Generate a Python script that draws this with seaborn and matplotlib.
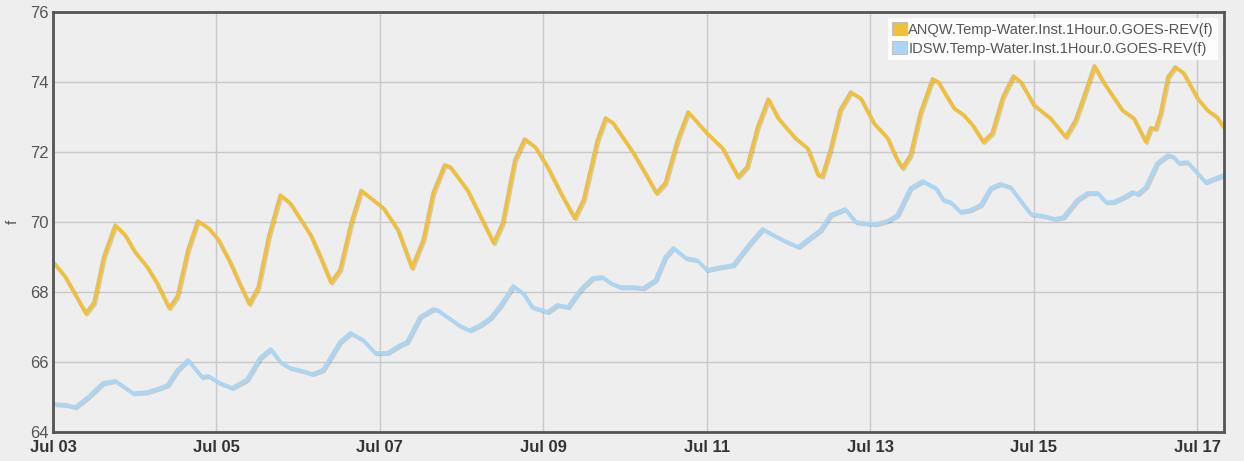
import numpy as np
import pandas as pd
import matplotlib
matplotlib.use("Agg")
import matplotlib.pyplot as plt
import matplotlib.dates as mdates
import matplotlib.patheffects as pe
from matplotlib.patches import Patch
import seaborn as sns

# Water temperature readings (days after Jul 03 00:00, deg F)
anqw_days = [0.00, 0.15, 0.40, 0.50, 0.62, 0.76, 0.88, 1.00, 1.15, 1.27, 1.42, 1.52, 1.65, 1.77,
             1.90, 2.02, 2.17, 2.29, 2.40, 2.51, 2.64, 2.78, 2.90, 3.15, 3.27, 3.40, 3.51, 3.65,
             3.77, 4.04, 4.22, 4.39, 4.53, 4.65, 4.79, 4.86, 5.07, 5.25, 5.39, 5.50, 5.65, 5.77,
             5.90, 6.05, 6.21, 6.38, 6.49, 6.66, 6.76, 6.85, 7.10, 7.27, 7.38, 7.49, 7.64, 7.77,
             8.00, 8.19, 8.38, 8.49, 8.62, 8.75, 8.87, 9.08, 9.23, 9.36, 9.41, 9.51, 9.63, 9.76,
             9.88, 10.04, 10.21, 10.31, 10.39, 10.49, 10.61, 10.76, 10.83, 11.02, 11.14, 11.25,
             11.38, 11.49, 11.62, 11.75, 11.84, 12.00, 12.20, 12.39, 12.51, 12.61, 12.74, 12.85,
             13.08, 13.22, 13.37, 13.43, 13.49, 13.55, 13.64, 13.73, 13.83, 14.00, 14.12, 14.24,
             14.32]
anqw_temp = [68.86, 68.43, 67.39, 67.69, 69.00, 69.91, 69.63, 69.15, 68.72, 68.26, 67.54, 67.87,
             69.20, 70.03, 69.83, 69.50, 68.83, 68.20, 67.66, 68.14, 69.60, 70.77, 70.54, 69.63,
             69.00, 68.27, 68.63, 70.00, 70.90, 70.40, 69.77, 68.69, 69.49, 70.83, 71.63, 71.57,
             70.91, 70.06, 69.40, 69.97, 71.77, 72.37, 72.14, 71.57, 70.83, 70.11, 70.63, 72.34,
             72.97, 72.83, 71.97, 71.29, 70.83, 71.11, 72.34, 73.14, 72.54, 72.11, 71.29, 71.57,
             72.71, 73.51, 72.97, 72.40, 72.11, 71.34, 71.30, 72.06, 73.20, 73.71, 73.54, 72.83,
             72.40, 71.86, 71.54, 71.91, 73.11, 74.09, 74.00, 73.26, 73.06, 72.77, 72.29, 72.54,
             73.57, 74.17, 74.00, 73.34, 72.97, 72.43, 72.91, 73.57, 74.46, 74.00, 73.20, 72.97,
             72.29, 72.69, 72.66, 73.11, 74.14, 74.43, 74.26, 73.54, 73.20, 73.00, 72.71]

idsw_days = [0.02, 0.17, 0.27, 0.43, 0.61, 0.76, 0.98, 1.15, 1.31, 1.40, 1.52, 1.65, 1.82, 1.90,
             2.04, 2.19, 2.37, 2.53, 2.66, 2.78, 2.90, 3.06, 3.17, 3.30, 3.51, 3.64, 3.79, 3.94,
             4.09, 4.25, 4.33, 4.49, 4.65, 4.70, 4.86, 4.98, 5.10, 5.23, 5.35, 5.47, 5.63, 5.75,
             5.86, 6.05, 6.17, 6.30, 6.45, 6.60, 6.72, 6.82, 6.94, 7.10, 7.22, 7.37, 7.49, 7.59,
             7.74, 7.88, 8.00, 8.16, 8.32, 8.53, 8.68, 8.86, 8.98, 9.12, 9.24, 9.39, 9.51, 9.69,
             9.82, 9.90, 10.06, 10.21, 10.33, 10.49, 10.64, 10.80, 10.89, 10.98, 11.10, 11.22,
             11.35, 11.47, 11.59, 11.71, 11.96, 12.12, 12.26, 12.36, 12.53, 12.66, 12.78, 12.88,
             12.97, 13.10, 13.21, 13.27, 13.37, 13.51, 13.64, 13.71, 13.77, 13.88, 14.10, 14.32]
idsw_temp = [64.80, 64.77, 64.71, 65.00, 65.40, 65.46, 65.11, 65.14, 65.26, 65.34, 65.77, 66.06,
             65.57, 65.60, 65.40, 65.26, 65.49, 66.11, 66.37, 66.00, 65.83, 65.74, 65.66, 65.77,
             66.57, 66.83, 66.63, 66.26, 66.26, 66.49, 66.57, 67.29, 67.51, 67.49, 67.23, 67.03,
             66.91, 67.06, 67.26, 67.60, 68.17, 67.97, 67.57, 67.43, 67.63, 67.57, 68.06, 68.40,
             68.43, 68.26, 68.14, 68.14, 68.11, 68.34, 69.00, 69.26, 68.97, 68.91, 68.63, 68.71,
             68.77, 69.40, 69.80, 69.57, 69.43, 69.29, 69.51, 69.77, 70.20, 70.37, 70.00, 69.97,
             69.94, 70.03, 70.20, 70.97, 71.17, 70.97, 70.63, 70.57, 70.29, 70.34, 70.49, 70.97,
             71.09, 71.00, 70.23, 70.17, 70.09, 70.14, 70.63, 70.83, 70.83, 70.57, 70.57, 70.71,
             70.86, 70.80, 71.00, 71.69, 71.91, 71.86, 71.69, 71.71, 71.14, 71.34]

series_names = ["ANQW.Temp-Water.Inst.1Hour.0.GOES-REV(f)",
                "IDSW.Temp-Water.Inst.1Hour.0.GOES-REV(f)"]
colors = ["#f0c03c", "#aad6f6"]

start = pd.Timestamp("2024-07-03")
df = pd.concat([
    pd.DataFrame({"time": start + pd.to_timedelta(anqw_days, unit="D"),
                  "temp": anqw_temp, "series": series_names[0]}),
    pd.DataFrame({"time": start + pd.to_timedelta(idsw_days, unit="D"),
                  "temp": idsw_temp, "series": series_names[1]}),
])

sns.set_style("whitegrid", {"axes.facecolor": "#eeeeee", "grid.color": "#c8c8c8",
                            "axes.edgecolor": "#555555"})
plt.rcParams["font.family"] = ["Liberation Sans", "DejaVu Sans"]

fig = plt.figure(figsize=(12.44, 4.61), dpi=100, facecolor="#eeeeee")
ax = fig.add_axes([0.0426, 0.063, 0.9415, 0.911])

sns.lineplot(data=df, x="time", y="temp", hue="series", palette=colors,
             linewidth=2.6, legend=False, ax=ax, sort=False,
             solid_joinstyle="round", solid_capstyle="round",
             path_effects=[pe.SimpleLineShadow(offset=(1, -1), alpha=0.15), pe.Normal()])

ax.set_ylim(64, 76)
ax.set_yticks(range(64, 77, 2))
ax.set_xlim(start, start + pd.Timedelta(days=14.33))
ax.xaxis.set_major_locator(mdates.DayLocator(bymonthday=range(3, 32, 2)))
ax.xaxis.set_major_formatter(mdates.DateFormatter("%b %d"))
ax.tick_params(axis="y", labelsize=12, colors="#555555", length=0, pad=3)
ax.tick_params(axis="x", labelsize=12, labelcolor="#333333", length=0, pad=6)
for lbl in ax.get_xticklabels():
    lbl.set_fontweight("bold")
ax.grid(True, linewidth=1)
for s in ax.spines.values():
    s.set_linewidth(2)
    s.set_color("#555555")
ax.set_xlabel("")
ax.set_ylabel("f", fontsize=11, color="#555555")
ax.yaxis.set_label_coords(-0.028, 0.5)

handles = [Patch(facecolor=c, edgecolor="#bbbbbb", linewidth=0.6) for c in colors]
leg = ax.legend(handles, series_names, loc="upper right", fontsize=10.5,
                handlelength=1.0, handleheight=1.0, handletextpad=0.1,
                borderpad=0.3, labelspacing=0.3, borderaxespad=0.4,
                frameon=True, fancybox=False)
leg.get_frame().set_facecolor("white")
leg.get_frame().set_edgecolor("none")
leg.get_frame().set_alpha(0.9)
for t in leg.get_texts():
    t.set_color("#555555")

fig.savefig("out.png", dpi=100, facecolor="#eeeeee")
